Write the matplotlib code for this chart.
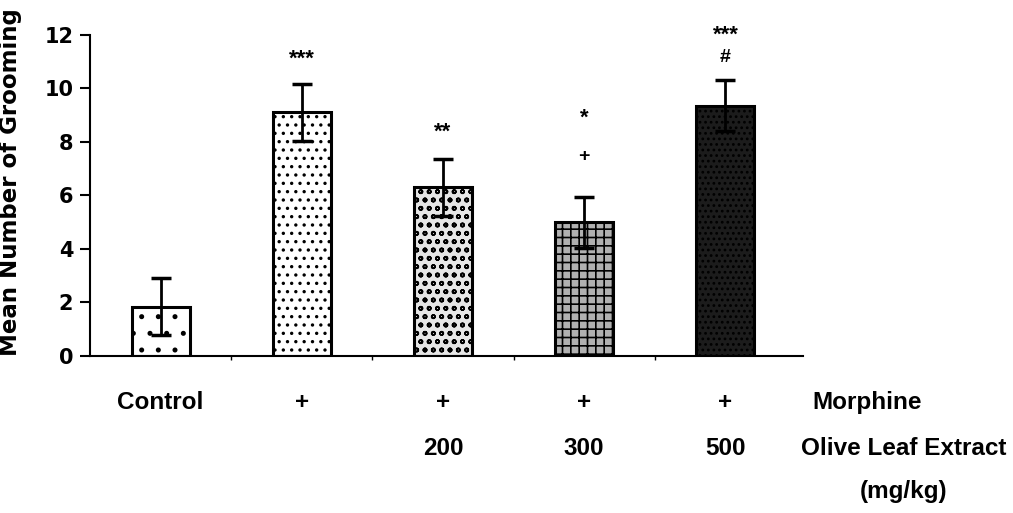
import numpy as np
import matplotlib.pyplot as plt
import matplotlib as mpl

groups = ["Control", "Morphine", "Morphine+200", "Morphine+300", "Morphine+500"]
means = [1.85, 9.1, 6.3, 5.0, 9.35]
sems = [1.05, 1.05, 1.05, 0.95, 0.95]
row1 = ["Control", "+", "+", "+", "+"]
row2 = ["", "", "200", "300", "500"]
# significance marks per bar, listed bottom to top
marks = [[], ["***"], ["**"], ["+", "*"], ["#", "***"]]
yticks = [0, 2, 4, 6, 8, 10, 12]

faces = ["white", "white", "#e6e6e6", "#b0b0b0", "#1c1c1c"]
hatches = [".", "..", "oo", "++", "..."]
hatch_cols = ["black", "black", "#333333", "white", "#bbbbbb"]
mark_start = [0, 1.05, 1.15, 1.5, 0.85]
mark_gap = [0, 0, 0, 1.56, 0.96]

font = ["Liberation Sans", "DejaVu Sans"]

fig = plt.figure(figsize=(10.13, 5.13), dpi=100)
ax = fig.add_axes([0.0888, 0.306, 0.704, 0.626])

x = np.arange(len(groups))
mpl.rcParams['hatch.linewidth'] = 1.2
for i in range(len(groups)):
    mpl.rcParams['hatch.color'] = hatch_cols[i]
    ax.bar(x[i], means[i], width=0.41, color=faces[i], edgecolor="black",
           linewidth=2.2, hatch=hatches[i], zorder=2)
ax.errorbar(x, means, yerr=sems, fmt="none", ecolor="black", elinewidth=2,
            capsize=7, capthick=2.5, zorder=3)

for i, ms in enumerate(marks):
    top = means[i] + sems[i]
    for k, m in enumerate(ms):
        yy = top + mark_start[i] + k * mark_gap[i]
        if "*" in m:
            # asterisk ink sits high in the glyph box
            ax.text(x[i], yy - 0.33, m, ha="center", va="baseline",
                    fontsize=16, fontweight="bold", family=font)
        else:
            ax.text(x[i], yy, m, ha="center", va="center",
                    fontsize=14, fontweight="bold", family=font)

ax.set_xlim(-0.5, 4.55)
ax.set_ylim(0, 12)
ax.set_yticks(yticks)
ax.set_yticklabels([str(t) for t in yticks], fontsize=15, fontweight="bold")
ax.set_xticks(x[:-1] + 0.5, minor=True)
ax.set_xticks([])
ax.tick_params(axis="x", which="minor", length=3, width=1)
ax.tick_params(axis="y", length=7, width=1.5, pad=5)
ax.spines["top"].set_visible(False)
ax.spines["right"].set_visible(False)
ax.spines["left"].set_linewidth(1.5)
ax.spines["bottom"].set_linewidth(1.5)
ax.set_ylabel("Mean Number of Grooming", fontsize=16.5, fontweight="bold")
ax.yaxis.set_label_coords(-0.095, 0.54)

fs = 17.5
for i in range(len(groups)):
    ax.text(x[i], -1.75, row1[i], ha="center", va="center", fontsize=fs,
            fontweight="bold", family=font, clip_on=False)
    if row2[i]:
        ax.text(x[i], -3.45, row2[i], ha="center", va="center", fontsize=fs,
                fontweight="bold", family=font, clip_on=False)
ax.text(5.0, -1.75, "Morphine", ha="center", va="center", fontsize=fs,
        fontweight="bold", family=font, clip_on=False)
ax.text(5.26, -3.45, "Olive Leaf Extract", ha="center", va="center", fontsize=fs,
        fontweight="bold", family=font, clip_on=False)
ax.text(5.26, -5.05, "(mg/kg)", ha="center", va="center", fontsize=fs,
        fontweight="bold", family=font, clip_on=False)

fig.savefig("out.png", dpi=100)
